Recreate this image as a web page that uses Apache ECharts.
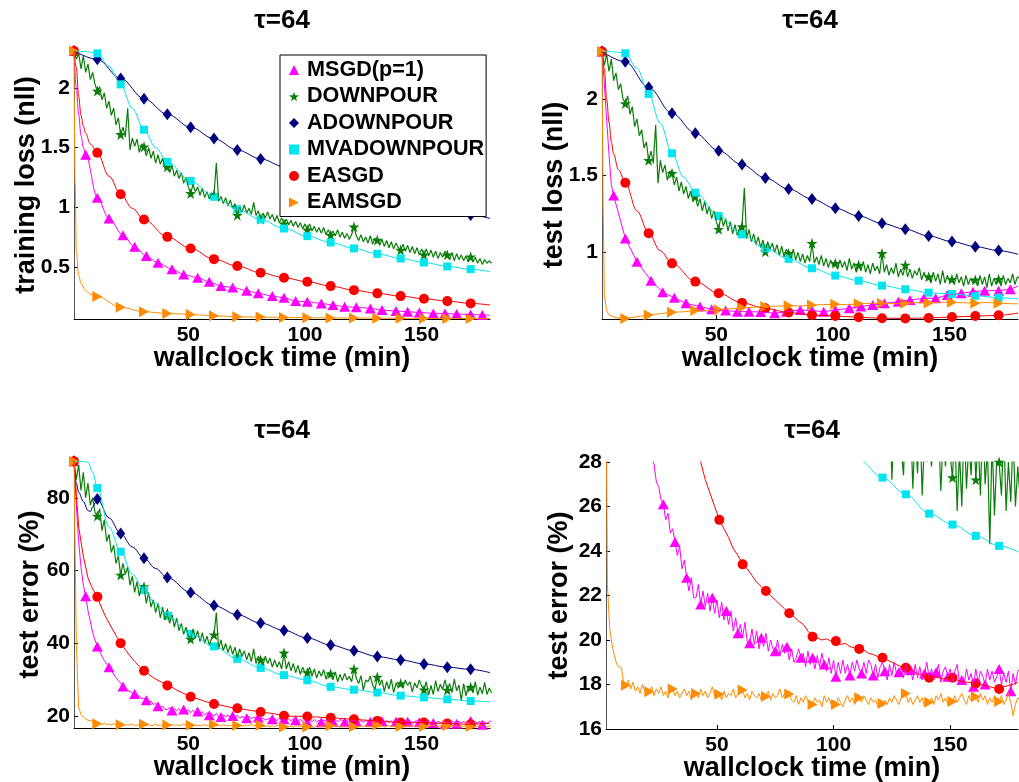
<!DOCTYPE html>
<html><head><meta charset="utf-8">
<script src="https://cdn.jsdelivr.net/npm/echarts@6/dist/echarts.min.js"></script>
<style>html,body{margin:0;padding:0;background:#fff}#c{width:1019px;height:782px}</style>
</head><body><div id="c"></div>
<script>
// ---------- names, tick labels ----------
const NAMES = ['MSGD(p=1)', 'DOWNPOUR', 'ADOWNPOUR', 'MVADOWNPOUR', 'EASGD', 'EAMSGD'];
const TITLE = 'τ=64';
const X_NAME = 'wallclock time (min)';
const Y_NAMES = ['training loss (nll)', 'test loss (nll)', 'test error (%)', 'test error (%)'];
const X_TICKS = [50, 100, 150];
const Y_TICKS = [[0.5, 1, 1.5, 2], [1, 1.5, 2], [20, 40, 60, 80], [16, 18, 20, 22, 24, 26, 28]];

// ---------- marker times (min) ----------
const MARK10 = [1, 11, 21, 31, 41, 51, 61, 71, 81, 91, 101, 111, 121, 131, 141, 151, 161, 171];
const MARK_MSGD = [1, 6, 11, 16, 22, 27, 32, 37, 43, 48, 54, 59, 64, 69, 75, 80, 86, 91, 96, 101, 107, 112, 117, 122, 128, 133, 139, 144, 149, 155, 160, 165, 171, 176];

// ---------- sample times ----------
const T_MIN = Array.from({length: 180}, (_, i) => i + 1);       // one sample per minute
const T_2MIN = Array.from({length: 90}, (_, i) => 1 + 2 * i);   // one sample every 2 minutes
const T_MSGD = [1, 2, 3, 4, 5].concat(MARK_MSGD.slice(1), [179.3]);
const T_AD = MARK10.concat([179.3]);
const T_MVA = [1, 6, 11, 16, 21, 26, 31, 36, 41, 51, 61, 71, 81, 91, 101, 111, 121, 131, 141, 151, 161, 171, 179.3];
const T_EASGD = [1, 2, 3, 4, 5, 6, 8, 11, 16, 21, 26, 31, 41, 51, 61, 71, 81, 91, 101, 111, 121, 131, 141, 151, 161, 171, 179.3];
const T_EAM1 = [1, 1.5, 2, 3, 4, 6, 8, 11, 21, 31, 41, 51, 61, 71, 81, 91, 101, 111, 121, 131, 141, 151, 161, 171, 179.3];
const T_EAM2 = [1, 1.5, 2, 3, 4, 6, 8, 11, 16, 21, 26, 31, 36, 41, 46, 51, 56, 61, 66, 71, 76, 81, 86, 91, 96, 101, 106, 111, 116, 121, 126, 131, 136, 141, 146, 151, 156, 161, 166, 171, 176, 179.3];
const T_TE_AD = [1, 2, 3, 5, 7, 8, 9, 11, 16, 21, 26, 31, 36, 41, 51, 61, 71, 81, 91, 101, 111, 121, 131, 141, 151, 161, 171, 179.3];
const T_TE_MVA = [1, 4, 7, 9, 11, 16, 21, 26, 31, 36, 41, 51, 61, 71, 81, 91, 101, 111, 121, 131, 141, 151, 161, 171, 179.3];

// ---------- training loss (nll) ----------
const trainMSGD = [2.31, 2.0, 1.78, 1.6, 1.5, 1.44, 1.08, 0.905, 0.765, 0.668, 0.59, 0.533, 0.48, 0.436, 0.408, 0.374, 0.338, 0.327, 0.3, 0.277, 0.254, 0.24, 0.212, 0.207, 0.193, 0.179, 0.165, 0.16, 0.151, 0.137, 0.129, 0.123, 0.117, 0.109, 0.109, 0.103, 0.1, 0.095, 0.093];
const trainDOWN = [
 2.31, 2.24, 2.29, 2.16, 2.27, 2.13, 2.2, 2.07, 2.13, 2.03,
 1.975, 2.01, 1.9, 1.96, 1.83, 1.89, 1.77, 1.83, 1.69, 1.75,
 1.61, 1.67, 1.59, 1.83, 1.48, 1.58, 1.51, 1.57, 1.46, 1.53,
 1.506, 1.43, 1.5, 1.41, 1.47, 1.37, 1.44, 1.36, 1.41, 1.32,
 1.338, 1.29, 1.35, 1.26, 1.31, 1.24, 1.29, 1.2, 1.25, 1.17,
 1.115, 1.19, 1.13, 1.17, 1.1, 1.16, 1.08, 1.13, 1.07, 1.12,
 1.1, 1.37, 1.05, 1.09, 1.03, 1.08, 1.01, 1.06, 0.99, 1.03,
 0.933, 1.0, 0.96, 1.02, 0.95, 0.99, 0.94, 1.04, 0.93, 0.97,
 0.9, 0.95, 0.91, 0.96, 0.9, 0.94, 0.88, 0.93, 0.87, 0.91,
 0.86, 0.9, 0.85, 0.89, 0.84, 0.88, 0.83, 0.87, 0.82, 0.86,
 0.81, 0.86, 0.8, 0.84, 0.79, 0.83, 0.78, 0.83, 0.77, 0.81,
 0.765, 0.8, 0.76, 0.81, 0.75, 0.79, 0.74, 0.78, 0.73, 0.77,
 0.835, 0.76, 0.72, 0.77, 0.71, 0.75, 0.7, 0.76, 0.69, 0.74,
 0.724, 0.68, 0.73, 0.67, 0.72, 0.66, 0.71, 0.65, 0.7, 0.66,
 0.64, 0.69, 0.63, 0.68, 0.62, 0.67, 0.61, 0.66, 0.6, 0.65,
 0.6, 0.65, 0.59, 0.64, 0.58, 0.63, 0.57, 0.62, 0.58, 0.63,
 0.6, 0.56, 0.62, 0.55, 0.61, 0.56, 0.6, 0.55, 0.59, 0.54,
 0.584, 0.54, 0.58, 0.53, 0.57, 0.52, 0.56, 0.53, 0.55, 0.53];
const trainADOWN = [2.31, 2.24, 2.08, 1.91, 1.78, 1.67, 1.575, 1.48, 1.405, 1.34, 1.28, 1.22, 1.165, 1.115, 1.065, 1.02, 0.975, 0.935, 0.905];
const trainMVA = [2.31, 2.305, 2.29, 2.18, 2.03, 1.83, 1.65, 1.5, 1.38, 1.22, 1.087, 0.983, 0.897, 0.821, 0.757, 0.704, 0.654, 0.609, 0.57, 0.536, 0.503, 0.48, 0.458];
const trainEASGD = [2.31, 2.17, 1.93, 1.77, 1.68, 1.62, 1.53, 1.456, 1.26, 1.109, 0.99, 0.897, 0.751, 0.654, 0.564, 0.506, 0.45, 0.408, 0.374, 0.338, 0.304, 0.277, 0.254, 0.232, 0.212, 0.193, 0.179];
const trainEAMSGD = [2.31, 1.2, 0.62, 0.43, 0.36, 0.3, 0.27, 0.25, 0.16, 0.123, 0.109, 0.1, 0.089, 0.081, 0.078, 0.075, 0.073, 0.071, 0.07, 0.069, 0.068, 0.067, 0.066, 0.066, 0.065];

// ---------- test loss (nll) ----------
const testMSGD = [2.31, 2.1, 1.86, 1.64, 1.44, 1.37, 1.09, 0.939, 0.815, 0.74, 0.704, 0.667, 0.646, 0.628, 0.62, 0.613, 0.613, 0.611, 0.602, 0.613, 0.624, 0.62, 0.613, 0.624, 0.635, 0.646, 0.657, 0.667, 0.678, 0.689, 0.7, 0.7, 0.722, 0.733, 0.743, 0.75, 0.75, 0.759, 0.78];
const testDOWN = [
 2.31, 2.22, 2.29, 2.18, 2.26, 2.12, 2.17, 2.06, 2.1, 2.0,
 1.97, 2.02, 1.9, 1.95, 1.82, 1.87, 1.76, 1.8, 1.68, 1.72,
 1.6, 1.66, 1.58, 1.83, 1.45, 1.6, 1.52, 1.57, 1.47, 1.53,
 1.515, 1.44, 1.49, 1.4, 1.46, 1.38, 1.43, 1.35, 1.4, 1.33,
 1.363, 1.3, 1.35, 1.27, 1.33, 1.25, 1.3, 1.22, 1.27, 1.2,
 1.15, 1.24, 1.17, 1.22, 1.14, 1.2, 1.12, 1.18, 1.11, 1.16,
 1.167, 1.42, 1.09, 1.15, 1.07, 1.12, 1.05, 1.1, 1.03, 1.08,
 1.004, 1.07, 1.02, 1.06, 1.0, 1.05, 0.98, 1.04, 0.97, 1.02,
 0.993, 0.96, 1.02, 0.95, 1.0, 0.94, 0.99, 0.93, 0.98, 0.94,
 1.059, 0.93, 0.97, 0.92, 0.98, 0.91, 0.96, 0.9, 0.95, 0.91,
 0.928, 0.89, 0.95, 0.9, 0.94, 0.88, 0.96, 0.89, 0.93, 0.87,
 0.917, 0.88, 0.94, 0.87, 0.92, 0.86, 0.93, 0.88, 0.91, 0.86,
 0.993, 0.87, 0.92, 0.85, 0.9, 0.86, 0.93, 0.84, 0.89, 0.85,
 0.917, 0.84, 0.89, 0.83, 0.88, 0.85, 0.9, 0.82, 0.87, 0.83,
 0.841, 0.8, 0.87, 0.81, 0.86, 0.79, 0.88, 0.8, 0.85, 0.81,
 0.824, 0.79, 0.86, 0.8, 0.84, 0.78, 0.85, 0.79, 0.83, 0.8,
 0.82, 0.78, 0.85, 0.79, 0.84, 0.77, 0.86, 0.78, 0.83, 0.79,
 0.824, 0.78, 0.85, 0.79, 0.83, 0.8, 0.86, 0.79, 0.84, 0.83];
const testADOWN = [2.31, 2.243, 2.076, 1.907, 1.776, 1.663, 1.572, 1.485, 1.413, 1.348, 1.287, 1.237, 1.189, 1.15, 1.107, 1.07, 1.037, 1.011, 0.987];
const testMVA = [2.31, 2.308, 2.298, 2.2, 2.033, 1.84, 1.646, 1.49, 1.389, 1.237, 1.117, 1.026, 0.957, 0.896, 0.848, 0.815, 0.783, 0.759, 0.737, 0.728, 0.717, 0.704, 0.696];
const testEASGD = [2.31, 2.2, 2.0, 1.85, 1.72, 1.64, 1.54, 1.454, 1.27, 1.124, 1.01, 0.928, 0.809, 0.733, 0.67, 0.635, 0.607, 0.591, 0.585, 0.576, 0.57, 0.569, 0.572, 0.578, 0.584, 0.589, 0.604];
const testEAMSGD = [2.31, 1.3, 0.72, 0.62, 0.592, 0.578, 0.572, 0.569, 0.58, 0.591, 0.6, 0.609, 0.612, 0.62, 0.618, 0.626, 0.631, 0.638, 0.642, 0.646, 0.649, 0.652, 0.65, 0.656, 0.659, 0.661, 0.658, 0.664, 0.667, 0.667, 0.665, 0.668, 0.672, 0.67, 0.675, 0.674, 0.671, 0.668, 0.673, 0.668, 0.665, 0.664];

// ---------- test error (%) ----------
const errMSGD = [
 90, 78, 68, 61, 56, 53, 49, 46, 43, 41,
 39.2, 37.8, 36.5, 35.3, 34.3, 33.5, 32.5, 31.6, 30.6, 29.8,
 29.1, 28.2, 27.9, 27.1, 26.9, 26.3, 26.1, 25.4, 25.7, 24.8,
 25.0, 24.4, 23.8, 24.2, 23.2, 23.6, 22.8, 22.2, 22.8, 21.9,
 21.9, 22.5, 21.6, 22.2, 21.5, 22.1, 21.3, 21.9, 21.2, 21.8,
 21.0, 21.7, 20.9, 21.3, 20.7, 21.3, 20.4, 21.0, 20.3, 20.7,
 20.1, 20.8, 19.9, 19.85, 20.5, 19.8, 20.4, 19.6, 20.1, 19.7,
 20.3, 19.5, 20.0, 19.6, 19.5, 20.0, 19.3, 19.8, 19.4, 19.7,
 19.1, 19.6, 19.0, 19.2, 19.6, 19.2, 19.4, 18.8, 19.5, 18.9,
 19.2, 18.7, 19.3, 18.8, 19.4, 18.9, 18.6, 19.2, 18.5, 19.1,
 18.35, 19.0, 18.5, 19.1, 18.5, 18.9, 18.4, 19.0, 18.6, 19.1,
 18.7, 18.5, 19.0, 18.5, 19.1, 18.9, 18.4, 18.9, 18.3, 18.8,
 19.0, 18.6, 18.2, 18.9, 18.4, 19.0, 18.5, 18.55, 18.8, 18.3,
 18.9, 18.4, 18.65, 18.2, 18.9, 18.3, 18.8, 18.2, 18.5, 19.0,
 18.3, 18.7, 18.2, 18.55, 18.9, 18.1, 18.6, 18.8, 18.35, 18.7,
 18.1, 18.6, 18.9, 18.1, 18.2, 18.0, 18.7, 18.2, 18.5, 17.9,
 18.7, 18.1, 18.6, 18.35, 18.0, 18.7, 18.2, 18.6, 18.1, 18.35,
 18.7, 18.0, 18.5, 18.1, 18.6, 17.7, 18.5, 18.0, 18.6, 18.7];
const errDOWN = [
 90, 85, 89, 82, 87, 80, 84, 78, 80, 76,
 75, 77, 71, 74, 68, 70, 65, 67, 62, 64,
 58.8, 62, 59, 61, 56, 58.5, 54, 57, 53, 56,
 55.6, 51, 54, 50, 52, 48.5, 51, 47, 50, 46.5,
 48.3, 45.5, 48, 44.5, 47, 43.5, 45.5, 42.5, 44.5, 42,
 41.2, 44, 41.5, 43.5, 40.5, 43, 40, 42, 39.5, 41.5,
 42.4, 48.5, 38.5, 41, 38, 40, 37.5, 39.5, 37, 39,
 36, 38.5, 36.5, 38, 35.5, 37.5, 35, 38.5, 34.5, 36.5,
 35.5, 34, 36.5, 34.5, 36, 33.5, 35.5, 33.5, 35, 33,
 37.4, 33, 35, 32.5, 34.5, 32, 34, 31.5, 33.5, 32,
 32, 33.5, 31, 33, 30.5, 32.5, 31, 32.8, 30.2, 32,
 31.7, 30, 32.2, 29.5, 31.5, 29.8, 31.8, 30, 31, 29.5,
 33, 30.5, 29, 31.2, 27.2, 30, 29.5, 31, 28.6, 27.4,
 30.8, 28.5, 30, 26.8, 29.5, 27.5, 30.2, 26.5, 29, 28,
 29, 27.8, 30, 28.5, 29.5, 26.7, 29.2, 27.8, 30, 28.3,
 27.3, 29.5, 25.8, 28.5, 26, 29.8, 26.8, 28.8, 27.4, 30,
 27.2, 29, 26.5, 30.2, 27, 28.6, 24.3, 29, 25.6, 28.2,
 28.0, 26.5, 29.5, 25.8, 28, 26.2, 29.3, 26, 27.8, 26.4];
const errADOWN = [90, 84, 81.5, 79, 76.5, 76.2, 77.5, 79.7, 74.5, 70.2, 66.5, 63.4, 60.6, 58.1, 54, 50.4, 47.9, 45.6, 43.6, 41.5, 39.6, 38, 36.4, 35.5, 34.4, 33.5, 32.9, 32];
const errMVA = [90, 90, 89.8, 87, 82.7, 72, 65.2, 59, 54.7, 51, 47.6, 42.6, 39.2, 35.8, 33.3, 31.3, 29.9, 28.1, 27.3, 26.55, 25.68, 25.19, 24.68, 24.23, 23.96];
const errEASGD = [
 90, 72, 64, 58, 55, 52.8, 49.5, 46.8, 44.5, 42.2,
 40.1, 38.3, 36.6, 35.1, 33.7, 32.5, 31.6, 30.6, 29.9, 29.2,
 28.5, 28.0, 27.2, 26.6, 26.0, 25.4, 25.0, 24.6, 24.1, 23.8,
 23.4, 23.2, 22.9, 22.6, 22.4, 22.2, 22.0, 21.8, 21.6, 21.4,
 21.2, 21.05, 20.85, 20.7, 20.4, 20.15, 20.1, 20.0, 20.05, 19.95,
 19.95, 19.8, 19.85, 19.7, 19.65, 19.6, 19.55, 19.4, 19.35, 19.25,
 19.2, 19.1, 19.0, 18.9, 18.8, 18.75, 18.7, 18.55, 18.45, 18.4,
 18.3, 18.35, 18.3, 18.25, 18.3, 18.3, 18.2, 18.15, 18.1, 18.1,
 18.05, 18.0, 17.95, 17.9, 17.85, 17.8, 17.9, 17.95, 18.0, 18.1];
const errEAMSGD = [
 90, 40, 22.5, 20.5, 19.8, 19.3, 18.9, 18.8, 18.75, 18.05,
 17.97, 18.2, 17.8, 18.1, 17.7, 17.9, 17.6, 18.0, 17.7, 17.8,
 17.67, 17.9, 17.5, 17.8, 17.6, 17.9, 17.5, 17.7, 17.4, 17.8,
 17.8, 17.5, 17.7, 17.4, 17.6, 17.8, 17.5, 17.7, 17.3, 17.6,
 17.6, 17.4, 17.8, 17.5, 17.7, 17.4, 17.6, 17.9, 17.5, 17.7,
 17.56, 17.3, 17.7, 17.4, 17.6, 17.5, 17.8, 17.4, 17.6, 17.9,
 17.75, 17.4, 17.6, 17.3, 17.7, 17.5, 17.4, 17.6, 17.3, 17.5,
 17.46, 17.7, 17.3, 17.6, 17.4, 17.5, 17.8, 17.4, 17.6, 17.7,
 17.57, 17.3, 17.2, 17.5, 17.1, 17.4, 17.2, 17.5, 17.3, 17.0,
 17.1, 17.4, 17.2, 17.3, 17.0, 17.5, 17.2, 17.4, 17.1, 17.3,
 17.1, 17.4, 17.2, 17.0, 17.3, 17.5, 17.2, 17.4, 17.1, 17.3,
 17.4, 17.2, 17.5, 17.3, 17.1, 17.4, 17.2, 17.3, 17.0, 17.2,
 17.15, 17.3, 17.1, 17.4, 17.2, 17.5, 17.3, 17.1, 17.4, 17.6,
 17.6, 17.2, 17.4, 17.1, 17.3, 17.5, 17.2, 17.4, 17.0, 17.3,
 17.2, 17.4, 17.1, 17.5, 17.3, 17.6, 17.2, 17.4, 17.1, 17.3,
 17.24, 17.5, 17.2, 17.4, 17.6, 17.3, 17.1, 17.5, 17.3, 17.4,
 17.45, 17.2, 17.6, 17.3, 17.5, 17.1, 17.4, 17.2, 17.5, 17.3,
 17.24, 17.5, 17.1, 17.3, 17.6, 17.2, 16.6, 17.1, 17.4, 17.3];

// ---------- styles ----------
const FONT = '"Liberation Sans", Arial, Helvetica, sans-serif';
const COLORS = ['#ff00ff', '#0b7d0b', '#00007f', '#00e5ee', '#ff0000', '#ff8c00'];
const STAR = 'path://M50,0L61.8,35.1L98.9,35.5L69.1,57.6L80.3,93L50,71.5L19.7,93L30.9,57.6L1.1,35.5L38.2,35.1Z';
const RTRI = 'path://M0,0L10,5L0,10Z';
const SYMBOLS = ['triangle', STAR, 'diamond', 'rect', 'circle', RTRI];
const SIZES = [[11, 10], [11, 11], [9, 12], [8, 8], [10, 10], [10, 11]];
const LINE_W = [1, 1.2, 1, 1, 1, 1];

const GRIDS = [
  {left: 74, top: 51, width: 416, height: 268},
  {left: 602, top: 51, width: 416, height: 268},
  {left: 74, top: 461, width: 416, height: 267},
  {left: 606, top: 462, width: 412, height: 267}
];
const X_RANGE = [[1, 179.3], [1, 179.3], [1, 179.3], [2.4, 179.1]];
const Y_RANGE = [[0.062, 2.31], [0.565, 2.313], [16.8, 90.1], [16, 28]];
const Y_NAME_GAP = [34, 34, 30, 33];
const TITLE_POS = [[282, 21], [810, 21], [282, 431], [812, 431]];

// panel -> per-method curves: [times, values, marker times, smooth]
const PANELS = [
  [[T_MSGD, trainMSGD, MARK_MSGD, true], [T_MIN, trainDOWN, MARK10, false], [T_AD, trainADOWN, MARK10, true],
   [T_MVA, trainMVA, MARK10, true], [T_EASGD, trainEASGD, MARK10, true], [T_EAM1, trainEAMSGD, MARK10, true]],
  [[T_MSGD, testMSGD, MARK_MSGD, false], [T_MIN, testDOWN, MARK10, false], [T_AD, testADOWN, MARK10, true],
   [T_MVA, testMVA, MARK10, true], [T_EASGD, testEASGD, MARK10, true], [T_EAM2, testEAMSGD, MARK10, false]],
  [[T_MIN, errMSGD, MARK_MSGD, false], [T_MIN, errDOWN, MARK10, false], [T_TE_AD, errADOWN, MARK10, true],
   [T_TE_MVA, errMVA, MARK10, true], [T_2MIN, errEASGD, MARK10, false], [T_MIN, errEAMSGD, MARK10, false]],
  [[T_MIN, errMSGD, MARK_MSGD, false], [T_MIN, errDOWN, MARK10, false], [T_TE_AD, errADOWN, MARK10, true],
   [T_TE_MVA, errMVA, MARK10, true], [T_2MIN, errEASGD, MARK10, false], [T_MIN, errEAMSGD, MARK10, false]]
];

const labelStyle = {fontFamily: FONT, fontWeight: 'bold', fontSize: 21, color: '#000'};
const nameStyle = {fontFamily: FONT, fontWeight: 'bold', fontSize: 27, color: '#000', lineHeight: 27};

const xAxes = GRIDS.map((g, i) => ({
  type: 'value', gridIndex: i, min: X_RANGE[i][0], max: X_RANGE[i][1],
  name: X_NAME, nameLocation: 'middle', nameGap: 26, nameTextStyle: nameStyle, nameMoveOverlap: false,
  axisLine: {show: true, onZero: false, lineStyle: {color: '#000', width: 1}},
  axisTick: {show: true, inside: true, length: 4, customValues: X_TICKS, lineStyle: {color: '#000'}},
  axisLabel: Object.assign({show: true, margin: 6, customValues: X_TICKS}, labelStyle),
  splitLine: {show: false}
}));
const yAxes = GRIDS.map((g, i) => ({
  type: 'value', gridIndex: i, min: Y_RANGE[i][0], max: Y_RANGE[i][1],
  name: Y_NAMES[i], nameLocation: 'middle', nameGap: Y_NAME_GAP[i], nameTextStyle: nameStyle, nameMoveOverlap: false,
  axisLine: {show: true, onZero: false, lineStyle: {color: '#555', width: 1}},
  axisTick: {show: true, inside: true, length: 4, customValues: Y_TICKS[i], lineStyle: {color: '#000'}},
  axisLabel: Object.assign({show: true, margin: 4, customValues: Y_TICKS[i]}, labelStyle),
  splitLine: {show: false}
}));

const series = [];
PANELS.forEach((panel, gi) => {
  panel.forEach(([t, v, marks, smooth], k) => {
    series.push({
      type: 'line', name: NAMES[k], xAxisIndex: gi, yAxisIndex: gi,
      data: t.map((x, i) => [x, v[i]]),
      showSymbol: false, symbol: 'none', smooth: smooth ? 0.35 : false, smoothMonotone: 'x',
      lineStyle: {color: COLORS[k], width: LINE_W[k]}, itemStyle: {color: COLORS[k]},
      clip: true, silent: true
    });
    const pts = [];
    marks.forEach(m => { const i = t.indexOf(m); if (i >= 0) pts.push([m, v[i]]); });
    series.push({
      type: 'scatter', name: NAMES[k], xAxisIndex: gi, yAxisIndex: gi, data: pts,
      symbol: SYMBOLS[k], symbolSize: SIZES[k],
      itemStyle: {color: COLORS[k], opacity: 1, borderWidth: 0}, clip: true, silent: true
    });
  });
});

const chart = echarts.init(document.getElementById('c'), null, {renderer: 'canvas'});
chart.setOption({
  animation: false,
  backgroundColor: '#fff',
  grid: GRIDS.map(g => Object.assign({containLabel: false, outerBoundsMode: 'none'}, g)),
  xAxis: xAxes,
  yAxis: yAxes,
  legend: {
    orient: 'vertical', left: 280, top: 55, padding: [4, 2, 3, 9], itemGap: 4.5,
    itemWidth: 10, itemHeight: 10, backgroundColor: '#fff', borderColor: '#000', borderWidth: 1,
    selectedMode: false, z: 10,
    textStyle: {fontFamily: FONT, fontWeight: 'bold', fontSize: 21.6, color: '#000', lineHeight: 22, padding: [0, 0, 0, 3]},
    data: NAMES.map((n, k) => ({name: n, icon: SYMBOLS[k], itemStyle: {color: COLORS[k], borderWidth: 0}}))
  },
  graphic: TITLE_POS.map(([x, y]) => ({
    type: 'text', x: x, y: y, silent: true,
    style: {text: TITLE, font: 'bold 26px ' + FONT, fill: '#000', align: 'center', verticalAlign: 'middle', textAlign: 'center', textVerticalAlign: 'middle'}
  })),
  series: series
});
</script>
</body></html>
